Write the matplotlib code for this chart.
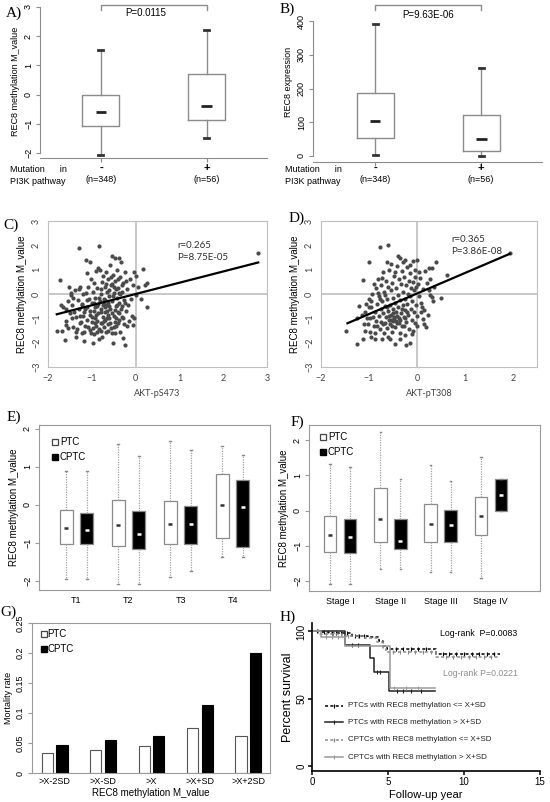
import numpy as np
import matplotlib.pyplot as plt
from matplotlib.lines import Line2D

# ---------------- data ----------------
# A/B: boxplots by PI3K mutation status (whislo, q1, median, q3, whishi)
mut_labels = ['-', '+']
mut_counts = ['(n=348)', '(n=56)']
meth_by_mut = [[-2.07, -1.07, -0.59, -0.02, 1.53],
               [-1.49, -0.86, -0.38, 0.69, 2.22]]
expr_by_mut = [[4, 54, 104, 188, 390],
               [0, 15, 51, 121, 261]]
p_meth = 'P=0.0115'
p_expr = 'P=9.63E-06'

# C: REC8 methylation vs AKT-pS473
pts_s473 = np.array([
    (-1.73, 0.56), (-1.79, -1.53), (-1.69, -1.53), (-1.62, -1.88), (-1.65, -0.53), (-1.7, -0.45),
    (-1.58, -0.62), (-1.55, -0.3), (-1.6, -1.28), (-1.52, 0.28), (-1.48, -0.05), (-1.45, -1.0),
    (-1.42, -1.35), (-1.4, -0.72), (-1.38, 0.15), (-1.35, -1.58), (-1.32, -0.25), (-1.3, 0.22),
    (-1.29, 1.88), (-1.28, -0.9), (-1.25, -1.15), (-1.23, -0.42), (-1.22, -1.6), (-1.2, 0.0),
    (-1.18, -0.75), (-1.17, -1.92), (-1.15, -1.3), (-1.13, 1.39), (-1.12, 0.85), (-1.1, -0.55),
    (-1.1, -1.05), (-1.08, 0.3), (-1.07, -0.2), (-1.05, -1.48), (-1.04, 1.32), (-1.03, -0.85),
    (-1.02, 0.6), (-1.0, -1.15), (-1.0, -0.38), (-0.98, -2.0), (-0.97, 0.1), (-0.96, -1.65),
    (-0.95, -0.68), (-0.94, 0.45), (-0.93, -1.0), (-0.92, -0.15), (-0.91, -1.3), (-0.9, 0.95),
    (-0.89, -0.5), (-0.88, -1.1), (-0.87, 0.25), (-0.86, 1.08), (-0.85, -0.8), (-0.84, -1.45),
    (-0.83, 1.97), (-0.82, -0.3), (-0.81, 1.0), (-0.8, -1.2), (-0.79, 0.0), (-0.78, -0.6),
    (-0.77, -1.75), (-0.76, 0.5), (-0.75, -0.95), (-0.74, 0.72), (-0.73, -1.35), (-0.72, -0.2),
    (-0.71, -0.75), (-0.7, 0.3), (-0.69, -1.05), (-0.68, -1.55), (-0.67, 0.9), (-0.66, -0.45),
    (-0.65, 0.1), (-0.64, -1.25), (-0.63, -0.85), (-0.62, 0.6), (-0.61, -0.1), (-0.6, -1.0),
    (-0.59, 1.2), (-0.58, -0.6), (-0.57, -1.4), (-0.56, 0.35), (-0.55, 1.56), (-0.54, -0.3),
    (-0.53, -1.6), (-0.52, -2.0), (-0.51, 0.8), (-0.5, -0.9), (-0.49, 0.05), (-0.48, -1.15),
    (-0.47, 0.55), (-0.46, 1.46), (-0.45, -0.5), (-0.44, -1.3), (-0.43, -0.15), (-0.42, 1.0),
    (-0.41, -0.75), (-0.4, 0.25), (-0.39, -1.05), (-0.38, -0.35), (-0.37, 1.5), (-0.36, 0.7),
    (-0.35, -1.55), (-0.34, -0.6), (-0.33, 1.32), (-0.32, 0.1), (-0.3, -0.95), (-0.29, -1.8),
    (-0.28, 0.45), (-0.27, -0.25), (-0.26, -1.25), (-0.25, -2.11), (-0.24, 0.9), (-0.22, -0.7),
    (-0.2, 0.2), (-0.18, -0.45), (-0.15, -1.1), (-0.12, 0.6), (-0.1, -0.2), (-0.08, -0.9),
    (-0.06, 0.35), (-0.05, -1.28), (-0.04, 0.9), (-0.03, -0.97), (0.0, 0.76), (0.02, -0.05),
    (0.05, 0.3), (0.12, -0.21), (0.18, 1.04), (0.22, 0.38), (0.25, 0.44), (0.25, -0.53),
    (2.8, 1.68),
    (-1.5, -0.8), (-1.45, -0.45), (-1.35, -0.95), (-1.3, -0.6), (-1.27, -1.2), (-1.2, -0.9),
    (-1.15, -0.6), (-1.1, -0.25), (-1.05, -0.7), (-1.0, -0.95), (-0.95, -0.35), (-0.92, -0.55),
    (-0.9, -0.85), (-0.85, -0.4), (-0.83, -0.15), (-0.8, -0.75), (-0.78, 0.2), (-0.75, -0.45),
    (-0.72, -1.1), (-0.7, -0.55), (-0.68, 0.4), (-0.65, -0.7), (-0.62, -0.35), (-0.6, 0.15),
    (-0.58, -1.2), (-0.55, -0.8), (-0.52, -0.1), (-0.5, 0.3), (-0.48, -0.65), (-0.45, -1.0),
    (-0.42, -0.45), (-0.4, 0.6), (-0.38, -0.8), (-0.35, 0.0), (-0.32, -0.5), (-0.3, 0.35),
    (-0.28, -1.0), (-0.25, -0.35), (-0.22, 0.55), (-0.2, -1.3), (-1.6, -1.1), (-1.55, -1.4),
    (-1.48, 0.05), (-1.42, -0.15), (-1.37, -1.75), (-1.33, -1.45), (-1.28, 0.3), (-1.22, -0.45),
    (-1.18, -1.55), (-1.14, 0.05), (-1.08, -1.35), (-1.02, -1.6), (-0.97, -1.4), (-0.93, -1.2),
    (-0.88, -1.55), (-0.84, -1.85), (-0.8, -1.5), (-0.76, -1.2), (-0.73, -0.4), (-0.69, -0.25),
    (-0.66, -1.0), (-0.63, -1.5), (-0.6, -0.5), (-0.57, 0.7), (-0.54, 0.4), (-0.5, -1.35),
    (-0.47, -1.6), (-0.44, 0.2), (-0.41, -1.2), (-0.38, 0.05)])
fit_s473 = [0.463, 0.0]          # slope, intercept of trend line
fit_s473_range = [-1.8, 2.8]
stat_s473 = ['r=0.265', 'P=8.75E-05']

# D: REC8 methylation vs AKT-pT308
pts_t308 = np.array([
    (-1.48, -1.51), (-1.13, 0.59), (-1.0, 1.33), (-0.78, 1.92), (-0.6, 2.01), (-0.39, 1.57),
    (-0.36, 1.5), (-0.25, 1.38), (-0.08, 1.36), (-0.01, 1.38), (0.4, 1.33), (0.24, 1.08),
    (0.31, 1.08), (0.62, 0.77), (0.5, -0.18), (0.27, -0.04), (0.31, -0.11), (0.1, -0.53),
    (0.12, -1.02), (0.0, -1.3), (-0.15, -2.0), (-0.23, -2.11), (-0.45, -2.04), (-0.57, -1.83),
    (-0.72, -1.86), (-0.88, -1.61), (-1.09, -1.51), (-1.25, -2.07), (-1.13, -1.86), (-1.09, -0.74),
    (-1.06, -0.42), (-1.15, -0.88), (1.93, 1.68), (0.2, 0.45), (0.15, -1.25), (0.18, -1.35),
    (0.05, 0.9), (-0.05, 0.7), (0.08, -0.75), (0.02, 0.4),
    (-1.0, -0.2), (-0.98, -1.0), (-0.95, -0.55), (-0.93, 0.0), (-0.9, -1.3), (-0.88, -0.75),
    (-0.86, 0.25), (-0.85, -1.1), (-0.83, -0.4), (-0.82, 0.6), (-0.8, -0.9), (-0.79, -0.1),
    (-0.78, -1.45), (-0.76, -0.6), (-0.75, 0.35), (-0.74, -1.15), (-0.72, -0.3), (-0.71, 0.9),
    (-0.7, -0.8), (-0.69, -1.6), (-0.68, 0.1), (-0.67, -0.5), (-0.66, -1.2), (-0.65, 0.55),
    (-0.64, -0.95), (-0.63, -0.2), (-0.62, -1.4), (-0.61, 0.3), (-0.6, -0.7), (-0.59, -1.05),
    (-0.58, 1.0), (-0.57, -0.45), (-0.56, -1.25), (-0.55, 0.15), (-0.54, -0.85), (-0.53, -1.55),
    (-0.52, 0.45), (-0.51, -0.6), (-0.5, -1.1), (-0.49, -0.15), (-0.48, 0.75), (-0.47, -0.95),
    (-0.46, -1.35), (-0.45, -0.35), (-0.44, 0.25), (-0.43, -0.75), (-0.42, 1.15), (-0.41, -1.2),
    (-0.4, -0.05), (-0.39, -0.55), (-0.38, 0.6), (-0.37, -1.0), (-0.36, -1.6), (-0.35, -0.25),
    (-0.34, 0.4), (-0.33, -0.8), (-0.32, 0.95), (-0.31, -1.3), (-0.3, -0.45), (-0.29, 0.1),
    (-0.28, -0.95), (-0.27, 0.7), (-0.26, -1.7), (-0.25, -0.2), (-0.24, -0.65), (-0.23, 0.35),
    (-0.22, -1.15), (-0.21, 1.1), (-0.2, -0.4), (-0.19, 0.0), (-0.18, -0.85), (-0.17, 0.55),
    (-0.16, -1.45), (-0.15, -0.1), (-0.14, 0.85), (-0.13, -0.6), (-0.12, 0.25), (-0.11, -1.05),
    (-0.1, -0.3), (-0.09, 0.5), (-0.08, -1.5), (-0.07, 0.15), (-0.06, -0.75), (-0.05, -1.2),
    (-0.04, 1.0), (-0.03, -0.45), (-0.02, 0.3), (0.01, -0.9), (0.04, -0.1), (0.06, 0.65),
    (0.09, -0.35), (0.12, 0.2), (0.14, -0.65), (0.17, 0.95), (0.22, -0.85), (0.25, 0.15),
    (0.28, 0.6), (0.33, -0.3), (0.36, 0.3),
    (-1.05, -1.0), (-1.02, -1.25), (-1.0, -0.55), (-0.97, -1.55), (-0.95, -0.3), (-0.92, -0.95),
    (-0.9, 0.4), (-0.87, -1.85), (-0.84, -1.3), (-0.81, 0.05), (-0.77, -0.2), (-0.73, 0.65),
    (-0.7, -1.25), (-0.66, -0.05), (-0.62, -0.55), (-0.58, -0.9), (-0.55, -1.05), (-0.52, -1.3),
    (-0.5, -0.8), (-0.47, -1.0), (-0.44, -1.1), (-0.41, -0.9), (-0.38, -1.2), (-0.35, -1.05),
    (-0.32, -0.6), (-0.28, -1.3), (-0.24, -1.0), (-0.2, -0.75), (-0.62, 1.3), (-0.55, 1.25),
    (-0.45, 0.9), (-0.3, 1.3), (-0.15, 1.2), (-1.2, -0.5), (-1.25, -1.0), (-1.1, -1.25),
    (-0.95, -1.75), (-0.6, -1.75), (-0.35, -1.85), (-0.1, -1.65)])
fit_t308 = [0.844, 0.02]
fit_t308_range = [-1.45, 1.93]
stat_t308 = ['r=0.365', 'P=3.86E-08']

# E: methylation by T stage
t_stages = ['T1', 'T2', 'T3', 'T4']
t_ptc = [[-1.96, -1.04, -0.62, -0.13, 0.89],
         [-2.08, -1.07, -0.54, 0.14, 1.60],
         [-1.91, -1.04, -0.50, 0.09, 1.68],
         [-1.38, -0.88, 0.00, 0.80, 1.54]]
t_cptc = [[-1.96, -1.04, -0.66, -0.21, 0.89],
          [-2.08, -1.17, -0.76, -0.15, 1.28],
          [-1.74, -1.04, -0.50, -0.02, 1.44],
          [-1.38, -1.11, -0.05, 0.66, 1.32]]

# F: methylation by clinical stage
stages = ['Stage I', 'Stage II', 'Stage III', 'Stage IV']
st_ptc = [[-2.09, -1.18, -0.69, -0.14, 1.32],
          [-1.66, -0.89, -0.25, 0.64, 2.24],
          [-1.74, -0.90, -0.39, 0.18, 1.29],
          [-1.92, -0.69, -0.15, 0.38, 1.53]]
st_cptc = [[-2.09, -1.21, -0.74, -0.23, 1.23],
           [-1.66, -1.09, -0.86, -0.23, 0.89],
           [-1.74, -0.89, -0.41, 0.02, 0.85],
           [-0.01, -0.01, 0.45, 0.91, 0.91]]

# G: mortality rate by methylation cut-off
cutoffs = ['>X-2SD', '>X-SD', '>X', '>X+SD', '>X+2SD']
mort_ptc = [0.034, 0.039, 0.045, 0.075, 0.0625]
mort_cptc = [0.046, 0.055, 0.0625, 0.114, 0.200]

# H: Kaplan-Meier curves (step times / survival %)
km_ptc_low_t = [0, 0.5, 1.1, 2.6, 3.7, 4.4, 4.7, 4.95, 8.15, 12.4]
km_ptc_low_s = [100, 99.5, 99, 97, 96, 93, 89, 87, 83, 83]
km_ptc_high_t = [0, 2.2, 3.8, 4.1, 5.05, 8.1]
km_ptc_high_s = [100, 90, 80, 70, 56, 56]
km_cptc_low_t = [0, 0.5, 2.0, 3.5, 4.3, 4.7, 4.9, 8.15, 12.4]
km_cptc_low_s = [100, 98, 97, 95, 92, 88, 85, 81, 81]
km_cptc_high_t = [0, 0.6, 2.2, 5.1, 8.1]
km_cptc_high_s = [100, 96, 89, 58, 58]
cens_ptc_low = [0.3, 0.8, 1.3, 1.6, 1.9, 2.3, 2.8, 3.1, 3.4, 5.5, 6.0, 6.5, 7.0, 7.5,
                8.6, 9.0, 9.5, 10.0, 10.5, 11.0, 11.5, 12.0]
cens_ptc_high = [2.6, 3.0, 4.3, 4.5, 5.6, 6.0, 6.5, 7.2]
cens_cptc_low = [0.4, 0.9, 1.4, 2.4, 3.0, 5.3, 5.8, 6.3, 6.8, 7.3, 7.8, 8.8, 9.3, 9.8,
                 10.3, 10.8, 11.3, 11.8]
cens_cptc_high = [0.9, 1.3, 1.7, 5.4, 6.2, 7.0]
km_labels = ['PTCs with REC8 methylation <= X+SD', 'PTCs with REC8 methylation > X+SD',
             'CPTCs with REC8 methylation <= X+SD', 'CPTCs with REC8 methylation > X+SD']
logrank = ['Log-rank  P=0.0083', 'Log-rank P=0.0221']

# ---------------- layout helpers (pixel coordinates) ----------------
W, H = 550, 802
fig = plt.figure(figsize=(W / 100, H / 100), dpi=100)
SANS = 'Liberation Sans'
SERIF = 'Liberation Serif'
XL = 'Lato'


def add_ax(l, t, r, b):
    return fig.add_axes([l / W, 1 - b / H, (r - l) / W, (b - t) / H])


def ptext(x, y, s, **kw):
    kw.setdefault('family', SANS)
    kw.setdefault('ha', 'center')
    kw.setdefault('va', 'center')
    fig.text(x / W, 1 - y / H, s, **kw)


def pmark(x, y, **kw):
    fig.add_artist(Line2D([x / W], [1 - y / H], **kw))


def as_stats(rows):
    return [dict(whislo=r[0], q1=r[1], med=r[2], q3=r[3], whishi=r[4]) for r in rows]


def style_ticks(ax, size=6.5, rot_y=True):
    for lab in ax.get_yticklabels():
        lab.set_family(SANS)
        lab.set_fontsize(size)
        if rot_y:
            lab.set_rotation(90)
            lab.set_va('center')
    for lab in ax.get_xticklabels():
        lab.set_family(SANS)
        lab.set_fontsize(size)


# ---------------- A / B ----------------
def mut_box(ax, rows, bracket_y, leg_y):
    ax.bxp(as_stats(rows), positions=[1, 2], widths=0.35, showfliers=False,
           boxprops=dict(color='#8c8c8c', lw=1), whiskerprops=dict(color='#8c8c8c', lw=1),
           capprops=dict(color='#333333', lw=2), capwidths=0.05, medianprops=dict(lw=0))
    for p, r in zip([1, 2], rows):
        ax.hlines(r[2], p - 0.05, p + 0.05, color='#222222', lw=2)
    ax.plot([1, 1, 2, 2], [leg_y, bracket_y, bracket_y, leg_y], color='#8c8c8c', lw=1,
            clip_on=False)
    ax.spines[['top', 'right']].set_visible(False)
    for s in ax.spines.values():
        s.set_color('#8c8c8c')
    ax.set_xticks([1, 2])
    ax.set_xticklabels([])
    ax.tick_params(length=3, color='#8c8c8c', pad=2)


axA = add_ax(40, 4, 267, 158)
mut_box(axA, meth_by_mut, 3.07, 2.9)
axA.set_xlim(0.425, 2.57)
axA.set_ylim(-2.17, 3.1)
axA.set_yticks(range(-2, 4))
axA.spines['left'].set_bounds(-2, 3)
style_ticks(axA)
axA.set_ylabel('REC8 methylation M_value', family=SANS, fontsize=6.5, labelpad=3)
ptext(146, 13, p_meth, fontsize=7)

axB = add_ax(313, 2.5, 542, 162)
mut_box(axB, expr_by_mut, 447, 432)
axB.set_xlim(0.415, 2.57)
axB.set_ylim(-17.8, 455)
axB.set_yticks(range(0, 401, 100))
axB.spines['left'].set_bounds(0, 400)
style_ticks(axB)
axB.set_ylabel('REC8 expression', family=SANS, fontsize=6.5, labelpad=3)
ptext(428, 15, p_expr, fontsize=7)

for x0, xs in [(0, (101, 207)), (275, (375, 481))]:
    ptext(x0 + 10, 169, 'Mutation      in', fontsize=6.5, ha='left')
    ptext(x0 + 10, 181, 'PI3K pathway', fontsize=6.5, ha='left')
    for x, lab, n in zip(xs, mut_labels, mut_counts):
        ptext(x, 168, lab, fontsize=8, weight='bold')
        ptext(x, 180, n, fontsize=6.5)

# ---------------- C / D ----------------
def scatter_panel(ax, pts, fit, frange, stats, xlim, xlabel, sx, sy):
    ax.axhline(0, color='#c4c4c4', lw=1.3, zorder=0)
    ax.axvline(0, color='#c4c4c4', lw=1.3, zorder=0)
    ax.scatter(pts[:, 0], pts[:, 1], s=9, color='#4a4a4a', lw=0, zorder=2)
    xx = np.array(frange)
    ax.plot(xx, fit[0] * xx + fit[1], color='black', lw=1.6, zorder=3)
    ax.set_xlim(*xlim)
    ax.set_ylim(-3, 3)
    ax.set_xticks(range(int(xlim[0]), int(np.floor(xlim[1])) + 1))
    ax.set_yticks(range(-3, 4))
    for s in ax.spines.values():
        s.set_color('#bfbfbf')
    ax.tick_params(length=0, pad=5, labelcolor='#404040')
    style_ticks(ax, size=6.5)
    for lab in ax.get_xticklabels() + ax.get_yticklabels():
        lab.set_family(XL)
    ax.set_xlabel(xlabel, family=XL, fontsize=6.5, color='#404040', labelpad=4)
    ax.set_ylabel('REC8 methylation M_value', family=SANS, fontsize=7, labelpad=4)
    ptext(sx, sy, stats[0], family=XL, fontsize=7, ha='left', color='#303030')
    ptext(sx, sy + 12, stats[1], family=XL, fontsize=7, ha='left', color='#303030')


axC = add_ax(48, 221, 267, 367)
scatter_panel(axC, pts_s473, fit_s473, fit_s473_range, stat_s473, (-2, 3), 'AKT-pS473', 177, 245)
axD = add_ax(321, 221, 537, 367)
scatter_panel(axD, pts_t308, fit_t308, fit_t308_range, stat_t308, (-2, 2.5), 'AKT-pT308', 451, 240)

# ---------------- E / F ----------------
def grouped_boxes(ax, ptc, cptc, labels):
    pos_p = [1 + 2.5 * i for i in range(len(ptc))]
    pos_c = [p + 1 for p in pos_p]
    for rows, pos, face, med in [(ptc, pos_p, 'white', '#333333'),
                                 (cptc, pos_c, 'black', 'white')]:
        ax.bxp(as_stats(rows), positions=pos, widths=0.62, showfliers=False, patch_artist=True,
               boxprops=dict(facecolor=face, edgecolor='#8a8a8a', lw=0.9),
               whiskerprops=dict(color='#a0a0a0', lw=0.9, ls=(0, (1, 1))),
               capprops=dict(color='#888888', lw=1), capwidths=0.08,
               medianprops=dict(lw=0))
        for p, r in zip(pos, rows):
            ax.hlines(r[2], p - 0.1, p + 0.1, color=med, lw=1.8, zorder=4)
    ax.set_xticks([p + 0.5 for p in pos_p])
    ax.set_xticklabels(labels)
    ax.set_yticks(range(-2, 3))
    for s in ax.spines.values():
        s.set_color('#9a9a9a')
    ax.tick_params(axis='y', length=3, color='#9a9a9a', pad=2)
    ax.tick_params(axis='x', length=0, pad=4)
    style_ticks(ax, size=6.5)
    ax.set_ylabel('REC8 methylation M_value', family=SANS, fontsize=7, labelpad=3)


def box_legend(x, y1, y2, size=7, gap=5):
    pmark(x, y1, marker='s', ms=4.5, mfc='white', mec='#444444', mew=0.9)
    ptext(x + gap, y1, 'PTC', fontsize=size, ha='left')
    pmark(x, y2, marker='s', ms=4.5, mfc='black', mec='black')
    ptext(x + gap, y2, 'CPTC', fontsize=size, ha='left')


axE = add_ax(39, 425, 270, 590)
grouped_boxes(axE, t_ptc, t_cptc, t_stages)
axE.set_xlim(-0.3, 10.8)
axE.set_ylim(-2.24, 2.1)
box_legend(55, 442, 457)

axF = add_ax(309, 425, 540, 591)
grouped_boxes(axF, st_ptc, st_cptc, stages)
axF.set_xlim(-0.05, 11.45)
axF.set_ylim(-2.28, 2.43)
box_legend(323, 437, 452)

# ---------------- G ----------------
axG = add_ax(32, 623, 270, 773)
gx = np.arange(len(cutoffs))
axG.bar(gx - 0.15, mort_ptc, width=0.23, color='white', edgecolor='#555555', lw=0.8)
axG.bar(gx + 0.15, mort_cptc, width=0.23, color='black', edgecolor='black', lw=0.8)
axG.set_xlim(-0.47, 4.45)
axG.set_ylim(0, 0.25)
axG.set_xticks(gx)
axG.set_xticklabels(cutoffs)
axG.set_yticks([0, 0.05, 0.1, 0.15, 0.2, 0.25])
axG.set_yticklabels(['0', '0.05', '0.1', '0.15', '0.2', '0.25'])
for s in axG.spines.values():
    s.set_color('#9a9a9a')
axG.tick_params(axis='y', length=3, color='#9a9a9a', pad=2)
axG.tick_params(axis='x', length=0, pad=3)
style_ticks(axG, size=6.5)
axG.set_ylabel('Mortality rate', family=SANS, fontsize=6.5, labelpad=2)
axG.set_xlabel('REC8 methylation M_value', family=SANS, fontsize=7, labelpad=1)
box_legend(44, 634, 649, gap=3)

# ---------------- H ----------------
axH = add_ax(312, 623, 540, 771)


def step_at(t, s, c):
    return [s[np.searchsorted(t, ci, side='right') - 1] for ci in c]


curves = [(km_ptc_low_t, km_ptc_low_s, cens_ptc_low, 'black', (0, (2, 1.5))),
          (km_ptc_high_t, km_ptc_high_s, cens_ptc_high, '#222222', '-'),
          (km_cptc_low_t, km_cptc_low_s, cens_cptc_low, '#8c8c8c', (0, (2, 1.5))),
          (km_cptc_high_t, km_cptc_high_s, cens_cptc_high, '#9a9a9a', '-')]
for t, s, c, col, ls in curves:
    axH.step(t, s, where='post', color=col, lw=1.1, ls=ls)
    axH.plot(c, step_at(t, s, c), ls='none', marker='|', ms=3.5, color=col, mew=0.8)

leg_y = [44.8, 32.5, 19.5, 6.5]
for (t, s, c, col, ls), lab, y in zip(curves, km_labels, leg_y):
    axH.plot([0.86, 2.04], [y, y], color=col, lw=1.1, ls=ls)
    axH.plot([1.45], [y], ls='none', marker='|', ms=3.5, color=col, mew=0.8)
    axH.text(2.35, y, lab, family=SANS, fontsize=5.8, va='center', color='#222222')

axH.text(8.4, 98.3, logrank[0], family=SANS, fontsize=6.3, va='center', color='black')
axH.text(8.6, 68.7, logrank[1], family=SANS, fontsize=6.3, va='center', color='#8c8c8c')
axH.set_xlim(0, 15)
axH.set_ylim(-3.6, 106.3)
axH.set_xticks([0, 5, 10, 15])
axH.set_yticks([0, 50, 100])
axH.spines[['top', 'right']].set_visible(False)
axH.spines[['left', 'bottom']].set_linewidth(1.2)
axH.tick_params(length=3, width=1.1, pad=1)
style_ticks(axH, size=7)
axH.set_ylabel('Percent survival', family=SANS, fontsize=9, labelpad=2)
ptext(426, 795, 'Follow-up year', fontsize=8)

# ---------------- panel letters ----------------
for x, y, s in [(14, 13, 'A)'), (287, 9, 'B)'), (11, 225, 'C)'), (297, 218, 'D)'),
                (14, 417, 'E)'), (297, 422, 'F)'), (8, 612, 'G)'), (288, 617, 'H)')]:
    ptext(x, y, s, family=SERIF, fontsize=11)

fig.savefig('out.png', dpi=100)
